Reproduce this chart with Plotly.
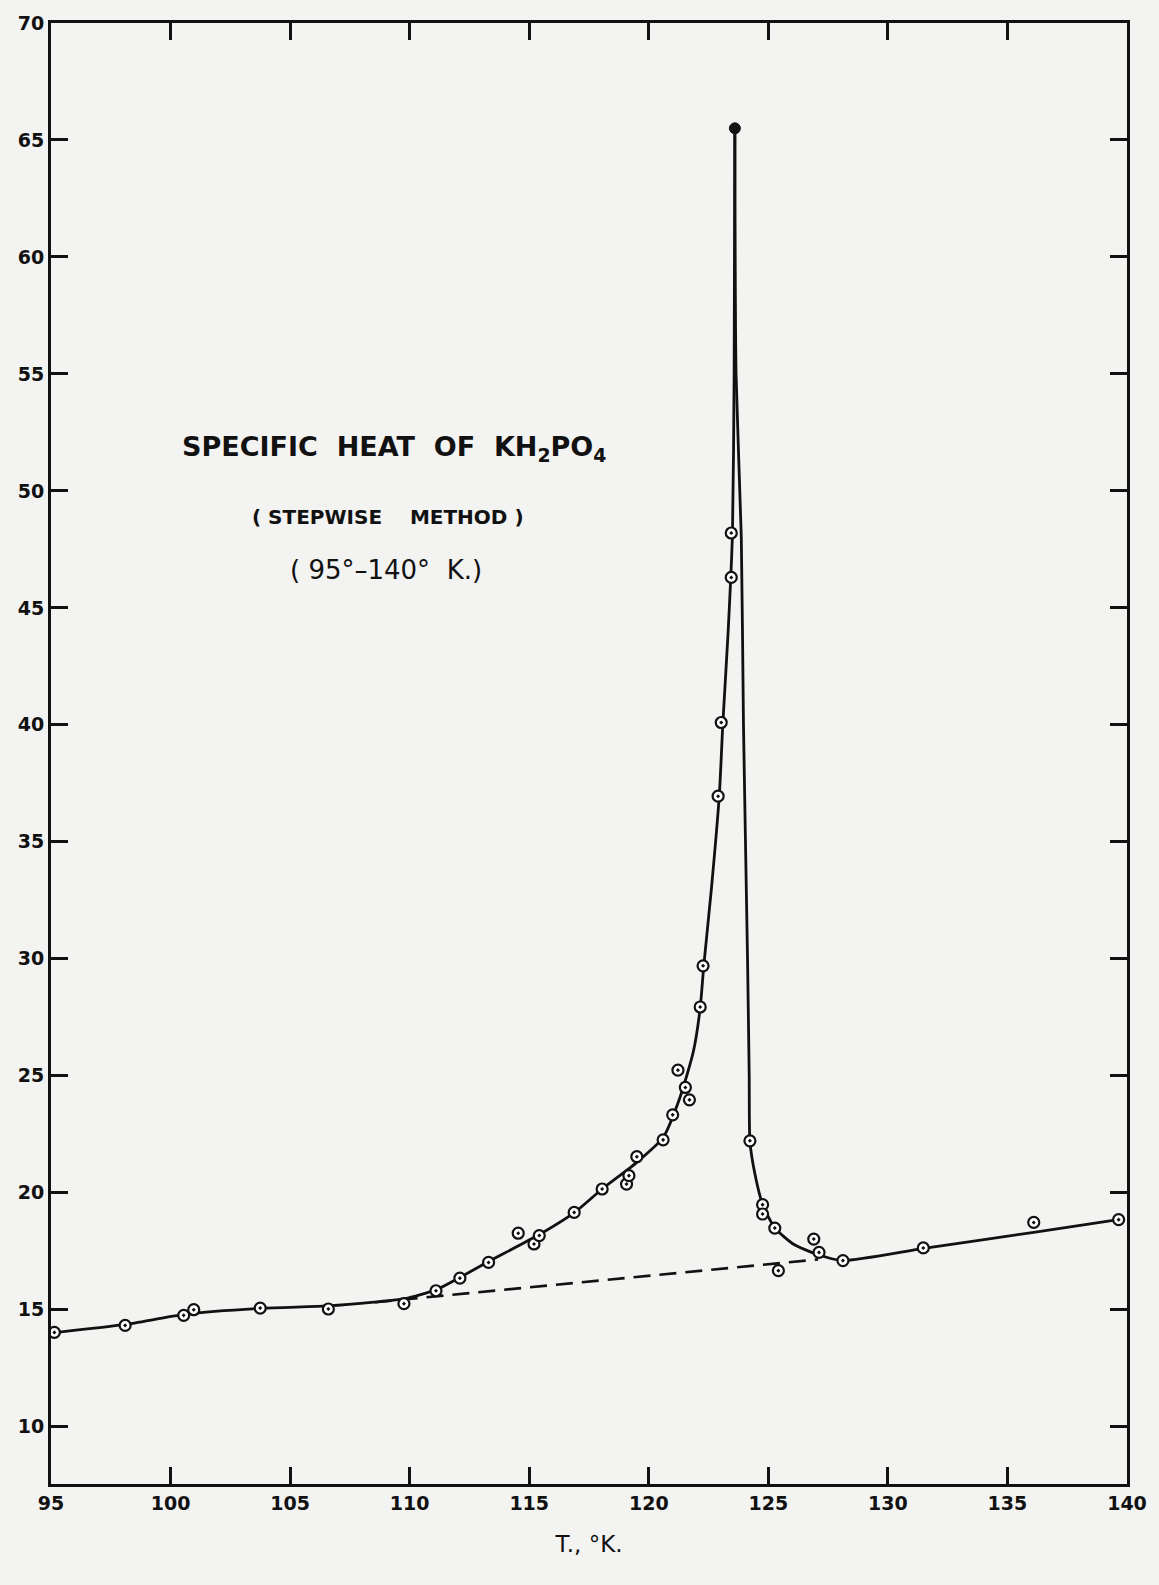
import plotly.graph_objects as go

# Measured specific heat of KH2PO4 (stepwise method)
temp_K = [95.14, 98.1, 100.55, 100.97, 103.75, 106.6, 109.76, 111.1, 112.1, 113.3,
          114.54, 115.2, 115.42, 116.88, 118.05, 119.07, 119.17, 119.5, 120.6, 121.0,
          121.22, 121.53, 121.7, 122.15, 122.27, 122.9, 123.03, 123.45, 123.45,
          124.23, 124.76, 124.76, 125.27, 125.42, 126.9, 127.12, 128.12, 131.48,
          136.1, 139.65]
heat = [14.03, 14.33, 14.76, 15.0, 15.07, 15.03, 15.26, 15.81, 16.35, 17.02,
        18.27, 17.81, 18.17, 19.16, 20.16, 20.37, 20.73, 21.54, 22.26, 23.33,
        25.24, 24.5, 23.97, 27.94, 29.7, 36.95, 40.1, 46.3, 48.2,
        22.22, 19.49, 19.09, 18.49, 16.67, 18.02, 17.45, 17.1, 17.64,
        18.73, 18.85]

# Peak of the anomaly
peak_T = [123.6]
peak_C = [65.5]

# Smooth curve drawn through the data: rising branch up to the peak
rise_T = [95.0, 98.1, 100.6, 103.8, 106.6, 108.5, 109.8, 111.1, 112.1, 113.3,
          115.35, 116.9, 118.05, 119.5, 120.6, 121.3, 121.87, 122.15, 122.3,
          122.62, 122.95, 123.1, 123.32, 123.5, 123.57, 123.6]
rise_C = [14.0, 14.37, 14.8, 15.06, 15.16, 15.32, 15.47, 15.85, 16.38, 17.06,
          18.17, 19.16, 20.16, 21.3, 22.36, 24.06, 26.06, 27.9, 29.7,
          33.0, 37.0, 40.1, 44.0, 48.2, 55.0, 65.5]

# ... and falling branch from the peak to the high-temperature end
fall_T = [123.6, 123.65, 123.87, 123.96, 124.13, 124.2, 124.23, 124.44, 124.76,
          125.27, 126.04, 127.0, 128.1, 131.5, 136.1, 139.7]
fall_C = [65.5, 55.0, 48.0, 40.0, 30.0, 25.0, 22.2, 20.8, 19.5,
          18.5, 17.81, 17.38, 17.1, 17.62, 18.31, 18.86]

# Extrapolated lattice background (dashed)
base_T = [108.54, 127.08]
base_C = [15.32, 17.15]

x_ticks = [95, 100, 105, 110, 115, 120, 125, 130, 135, 140]
y_ticks = [10, 15, 20, 25, 30, 35, 40, 45, 50, 55, 60, 65, 70]

INK = "#111111"
PAPER = "#f3f3f1"
FONT = "DejaVu Sans"

fig = go.Figure()

fig.add_trace(go.Scatter(
    x=base_T, y=base_C, mode="lines",
    line=dict(color=INK, width=2.6, dash="17px,9px"),
    hoverinfo="skip", showlegend=False))

for xs, ys in ((rise_T, rise_C), (fall_T, fall_C)):
    fig.add_trace(go.Scatter(
        x=xs, y=ys, mode="lines",
        line=dict(color=INK, width=2.8, shape="spline", smoothing=0.6),
        hoverinfo="skip", showlegend=False))

fig.add_trace(go.Scatter(
    x=temp_K, y=heat, mode="markers",
    marker=dict(symbol="circle-dot", size=11, color="white",
                line=dict(color=INK, width=2.2)),
    showlegend=False))

fig.add_trace(go.Scatter(
    x=peak_T, y=peak_C, mode="markers",
    marker=dict(symbol="circle", size=11, color=INK,
                line=dict(color=INK, width=1)),
    showlegend=False))

axis_common = dict(
    showline=True, linecolor=INK, linewidth=3,
    ticks="inside", ticklen=17, tickwidth=2.5, tickcolor=INK,
    mirror="ticks", showgrid=False, zeroline=False,
    tickfont=dict(family=FONT, size=19, color=INK, weight="bold"),
)

fig.update_xaxes(range=[95, 140], tickvals=x_ticks,
                 ticktext=[str(v) for v in x_ticks],
                 title=dict(text="T., °K.", standoff=24,
                            font=dict(family=FONT, size=23, color=INK)),
                 **axis_common)
fig.update_yaxes(range=[7.55, 70], tickvals=y_ticks,
                 ticktext=[str(v) for v in y_ticks],
                 **axis_common)

fig.add_annotation(text="SPECIFIC  HEAT  OF  KH<sub>2</sub>PO<sub>4</sub>",
                   x=100.4, y=51.8, xanchor="left", yanchor="middle",
                   showarrow=False,
                   font=dict(family=FONT, size=27, color=INK, weight="bold"))
fig.add_annotation(text="( STEPWISE    METHOD )",
                   x=109.1, y=48.9, xanchor="center", yanchor="middle",
                   showarrow=False,
                   font=dict(family=FONT, size=20, color=INK, weight="bold"))
fig.add_annotation(text="( 95°–140°  K.)",
                   x=109.0, y=46.6, xanchor="center", yanchor="middle",
                   showarrow=False,
                   font=dict(family=FONT, size=26, color=INK))

fig.update_layout(
    width=1159, height=1585,
    margin=dict(l=51, r=27, t=20, b=101),
    paper_bgcolor=PAPER, plot_bgcolor=PAPER,
    font=dict(family=FONT, color=INK),
)

fig.write_html("out.html")
